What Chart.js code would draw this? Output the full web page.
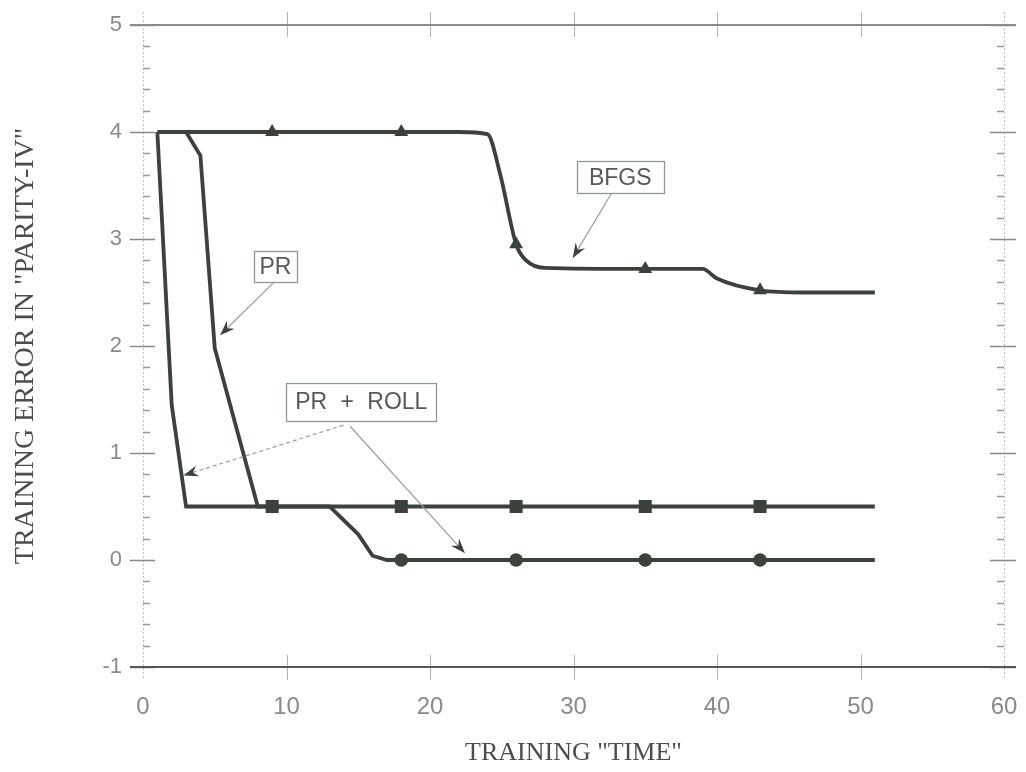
<!DOCTYPE html>
<html>
<head>
<meta charset="utf-8">
<script src="https://cdn.jsdelivr.net/npm/chart.js@4/dist/chart.umd.min.js"></script>
<style>
  html, body { margin: 0; padding: 0; background: #ffffff; }
  #wrap { width: 1026px; height: 772px; }
</style>
</head>
<body>
<div id="wrap"><canvas id="c" width="1026" height="772"></canvas></div>
<script>
// ---- data ----
const xTickValues = [0, 10, 20, 30, 40, 50, 60];
const yTickValues = [-1, 0, 1, 2, 3, 4, 5];

const bfgsTime  = [1, 9, 18, 22, 24, 24.9, 26, 26.7, 28, 35, 39, 40, 43, 46, 51];
const bfgsError = [4, 4, 4, 4, 3.98, 3.6, 2.95, 2.8, 2.73, 2.72, 2.72, 2.63, 2.52, 2.5, 2.5];

const prTime  = [3, 4, 5, 8, 9, 18, 26, 35, 43, 51];
const prError = [4, 3.78, 1.98, 0.5, 0.5, 0.5, 0.5, 0.5, 0.5, 0.5];

const rollTime  = [1, 2, 3, 9, 13, 15, 16, 17, 18, 26, 35, 43, 51];
const rollError = [4, 1.45, 0.5, 0.5, 0.5, 0.24, 0.04, 0, 0, 0, 0, 0, 0];

const markerTimes = [9, 18, 26, 35, 43];

const seriesNames = ['PR', 'PR + ROLL', 'BFGS'];

// ---- helpers ----
const toPoints = (ts, vs) => ts.map((t, i) => ({ x: t, y: vs[i] }));
const markerRadius = r => ctx => (ctx.raw && markerTimes.includes(ctx.raw.x)) ? r : 0;
const INK = '#3a423c';

const framePlugin = {
  id: 'frame',
  beforeDatasetsDraw(chart) {
    const { ctx, scales: { x, y } } = chart;
    const L = x.getPixelForValue(xTickValues[0]);
    const R = x.getPixelForValue(xTickValues[xTickValues.length - 1]);
    const T = y.getPixelForValue(yTickValues[yTickValues.length - 1]);
    const B = y.getPixelForValue(yTickValues[0]);
    const seg = (x1, y1, x2, y2) => { ctx.beginPath(); ctx.moveTo(x1, y1); ctx.lineTo(x2, y2); ctx.stroke(); };
    ctx.save();
    // side axes (faint dotted)
    ctx.strokeStyle = '#c2c2c2'; ctx.lineWidth = 1; ctx.setLineDash([2, 2]);
    seg(L + 0.5, T - 13, L + 0.5, B + 13);
    seg(R + 0.5, T - 13, R + 0.5, B + 13);
    ctx.setLineDash([]);
    // y ticks (major cross, minor inside)
    const yMin = yTickValues[0], yMax = yTickValues[yTickValues.length - 1];
    for (let i = yMin * 5; i <= yMax * 5; i++) {
      const py = Math.round(y.getPixelForValue(i / 5)) + 0.5;
      if (i % 5 === 0) {
        ctx.strokeStyle = '#8a8a8a'; ctx.lineWidth = 1.5;
        seg(L - 13, py, L + 12, py);
        seg(R - 14, py, R + 12, py);
      } else {
        ctx.strokeStyle = '#999999'; ctx.lineWidth = 1.5;
        seg(L, py, L + 7, py);
        seg(R - 7, py, R, py);
      }
    }
    // x ticks top and bottom
    ctx.strokeStyle = '#b4b4b4'; ctx.lineWidth = 1;
    xTickValues.slice(1, -1).forEach(v => {
      const px = Math.round(x.getPixelForValue(v)) + 0.5;
      seg(px, T - 13, px, T + 12);
      seg(px, B - 12, px, B + 13);
    });
    // top and bottom frame lines
    ctx.lineWidth = 2;
    ctx.strokeStyle = '#8e8b86';
    seg(L - 13, T, R + 12, T);
    ctx.strokeStyle = '#505851';
    seg(L - 13, B, R + 12, B);
    ctx.restore();
  }
};

const notePlugin = {
  id: 'notes',
  afterDatasetsDraw(chart, args, opts) {
    const { ctx, scales: { x, y } } = chart;
    ctx.save();
    // arrows
    opts.arrows.forEach(a => {
      const x1 = x.getPixelForValue(a.from[0]), y1 = y.getPixelForValue(a.from[1]);
      const x2 = x.getPixelForValue(a.to[0]), y2 = y.getPixelForValue(a.to[1]);
      const ang = Math.atan2(y2 - y1, x2 - x1);
      const len = 15, half = 5.5, notch = 10;
      ctx.strokeStyle = '#9c9c9c'; ctx.lineWidth = 1.2;
      ctx.setLineDash(a.dash ? [4, 3] : []);
      ctx.beginPath(); ctx.moveTo(x1, y1);
      ctx.lineTo(x2 - Math.cos(ang) * notch, y2 - Math.sin(ang) * notch); ctx.stroke();
      ctx.setLineDash([]);
      const bx = x2 - Math.cos(ang) * len, by = y2 - Math.sin(ang) * len;
      const nx = -Math.sin(ang), ny = Math.cos(ang);
      ctx.fillStyle = INK;
      ctx.beginPath();
      ctx.moveTo(x2, y2);
      ctx.lineTo(bx + nx * half, by + ny * half);
      ctx.lineTo(x2 - Math.cos(ang) * notch, y2 - Math.sin(ang) * notch);
      ctx.lineTo(bx - nx * half, by - ny * half);
      ctx.closePath(); ctx.fill();
    });
    // boxes
    ctx.font = '23px "Liberation Sans", Arial, sans-serif';
    ctx.textAlign = 'center'; ctx.textBaseline = 'middle';
    opts.boxes.forEach(b => {
      const cx = x.getPixelForValue(b.cx), cy = y.getPixelForValue(b.cy);
      const l = Math.round(cx - b.w / 2) + 0.5, t = Math.round(cy - b.h / 2) + 0.5;
      ctx.fillStyle = '#ffffff';
      ctx.fillRect(l, t, b.w, b.h);
      ctx.strokeStyle = '#8d9a92'; ctx.lineWidth = 1.3;
      ctx.strokeRect(l, t, b.w, b.h);
      ctx.fillStyle = '#555a57';
      ctx.wordSpacing = (b.wordSpacing || 0) + 'px';
      ctx.fillText(b.text, cx, cy + 1);
    });
    ctx.restore();
  }
};

new Chart(document.getElementById('c'), {
  type: 'line',
  data: {
    datasets: [
      {
        label: seriesNames[0],
        data: toPoints(prTime, prError),
        borderColor: INK, borderWidth: 3.8,
        pointStyle: 'rect', pointRadius: markerRadius(9.2),
        pointBackgroundColor: INK, pointBorderWidth: 0, pointHoverRadius: 0,
        tension: 0, fill: false
      },
      {
        label: seriesNames[1],
        data: toPoints(rollTime, rollError),
        borderColor: INK, borderWidth: 3.8,
        pointStyle: 'circle', pointRadius: markerRadius(6.8),
        pointBackgroundColor: INK, pointBorderWidth: 0, pointHoverRadius: 0,
        tension: 0, fill: false
      },
      {
        label: seriesNames[2],
        data: toPoints(bfgsTime, bfgsError),
        borderColor: INK, borderWidth: 3.8,
        pointStyle: 'triangle', pointRadius: markerRadius(8),
        pointBackgroundColor: INK, pointBorderWidth: 0, pointHoverRadius: 0,
        cubicInterpolationMode: 'monotone', fill: false
      }
    ]
  },
  options: {
    responsive: false,
    animation: false,
    events: [],
    layout: { padding: { top: 25, right: 22, left: 0, bottom: 0 } },
    plugins: {
      legend: { display: false },
      tooltip: { enabled: false },
      notes: {
        boxes: [
          { text: seriesNames[0], cx: 9.23, cy: 2.74, w: 43, h: 31 },
          { text: seriesNames[1], cx: 15.21, cy: 1.48, w: 150, h: 38, wordSpacing: 7 },
          { text: seriesNames[2], cx: 33.26, cy: 3.575, w: 87, h: 32 }
        ],
        arrows: [
          { from: [9.08, 2.59], to: [5.37, 2.10], dash: false },
          { from: [13.96, 1.26], to: [2.81, 0.79], dash: true },
          { from: [14.43, 1.25], to: [22.44, 0.063], dash: false },
          { from: [32.66, 3.43], to: [29.94, 2.82], dash: false }
        ]
      }
    },
    scales: {
      x: {
        type: 'linear',
        min: xTickValues[0], max: xTickValues[xTickValues.length - 1],
        afterBuildTicks: s => { s.ticks = xTickValues.map(v => ({ value: v })); },
        afterFit: s => { s.height = 105; s.paddingLeft = 0; s.paddingRight = 0; },
        grid: { display: false },
        border: { display: false },
        ticks: {
          color: '#8a8a8a', padding: 18,
          font: { family: '"Liberation Sans", Arial, sans-serif', size: 24 }
        },
        title: {
          display: true, text: 'TRAINING "TIME"', color: '#4a4f4c',
          padding: { top: 0, bottom: 3 },
          font: { family: '"Liberation Serif", "Times New Roman", serif', size: 26 }
        }
      },
      y: {
        type: 'linear',
        min: yTickValues[0], max: yTickValues[yTickValues.length - 1],
        afterBuildTicks: s => { s.ticks = yTickValues.map(v => ({ value: v })); },
        afterFit: s => { s.width = 143; s.paddingTop = 0; s.paddingBottom = 0; },
        grid: { display: false },
        border: { display: false },
        ticks: {
          color: '#8a8a8a', padding: 13,
          font: { family: '"Liberation Sans", Arial, sans-serif', size: 22 }
        },
        title: {
          display: true, text: 'TRAINING ERROR IN "PARITY-IV"', color: '#4a4f4c',
          padding: { top: 9, bottom: 0 },
          font: { family: '"Liberation Serif", "Times New Roman", serif', size: 28 }
        }
      }
    }
  },
  plugins: [framePlugin, notePlugin]
});
</script>
</body>
</html>
